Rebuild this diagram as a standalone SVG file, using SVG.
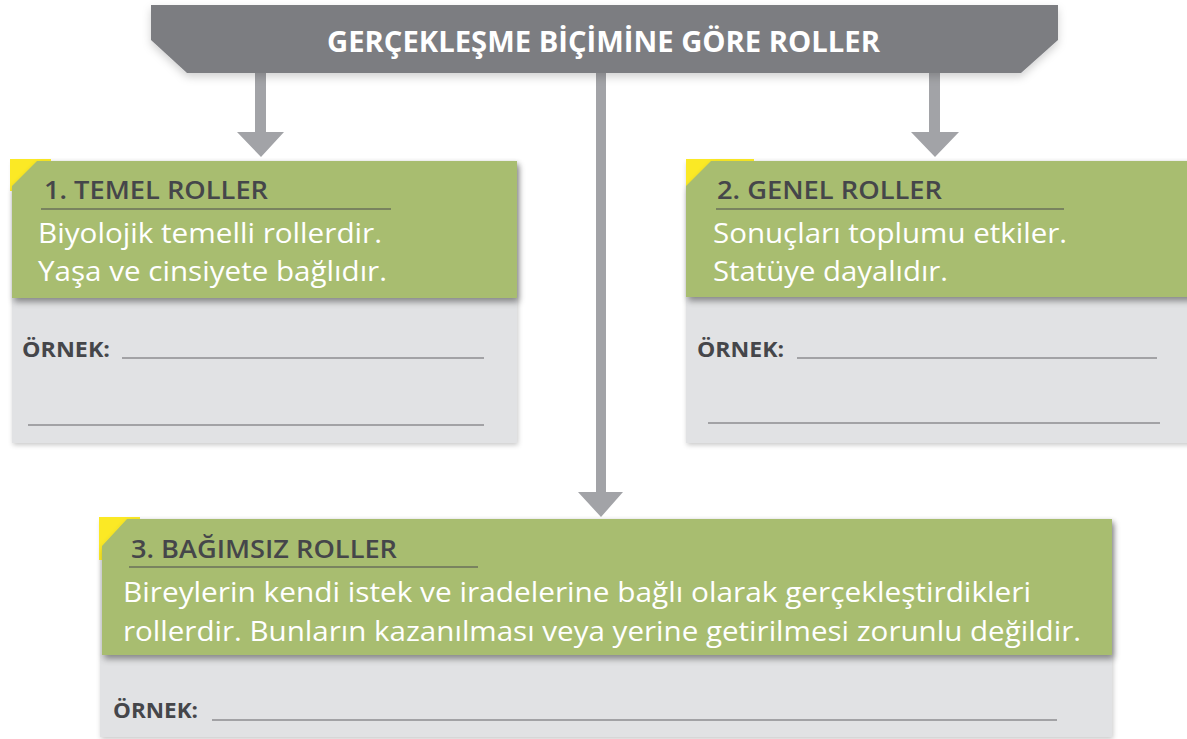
<svg xmlns="http://www.w3.org/2000/svg" width="1187" height="739" viewBox="0 0 1187 739">
  <style>
    .banner { fill: #7c7d81; }
    .arrow { fill: #a2a3a7; }
    .card { fill: #e1e2e4; }
    .head { fill: #a8bd6f; }
    .tag { fill: #fbe925; }
    .rule { stroke: #4a4b4f; stroke-width: 1.2; fill: none; }
    .blank { stroke: #8c8d91; stroke-width: 1.4; fill: none; }
    .title { font-family: "Open Sans", "Liberation Sans", sans-serif; font-weight: 700; font-size: 28px; fill: #ffffff; }
    .h { font-family: "Open Sans", "Liberation Sans", sans-serif; font-weight: 600; font-size: 26px; fill: #45464a; }
    .body { font-family: "Open Sans", "Liberation Sans", sans-serif; font-weight: 400; font-size: 27px; fill: #ffffff; }
    .ex { font-family: "Open Sans", "Liberation Sans", sans-serif; font-weight: 700; font-size: 21px; fill: #45464a; }
  </style>
  <defs>
    <filter id="shGreen" x="-5%" y="-10%" width="112%" height="130%">
      <feDropShadow dx="2" dy="4" stdDeviation="3" flood-color="#000" flood-opacity="0.4"/>
    </filter>
    <filter id="shCard" x="-5%" y="-5%" width="112%" height="115%">
      <feDropShadow dx="1" dy="2" stdDeviation="2.5" flood-color="#000" flood-opacity="0.22"/>
    </filter>
    <filter id="shBanner" x="-5%" y="-20%" width="110%" height="160%">
      <feDropShadow dx="0" dy="4" stdDeviation="4" flood-color="#000" flood-opacity="0.18"/>
    </filter>
  </defs>

  <rect width="1187" height="739" fill="#ffffff"/>

  <g id="connectors">
    <path class="arrow" d="M255,70 H266 V132 H284 L261,157 L237,132 H255 Z"/>
    <path class="arrow" d="M929,70 H940 V132 H959 L935,157 L911,132 H929 Z"/>
    <path class="arrow" d="M596,70 H606 V492 H623 L601,517 L578,492 H596 Z"/>
  </g>

  <g id="banner">
    <polygon class="banner" filter="url(#shBanner)" points="151,5 1058,5 1058,40 1021,73 187,73 151,40"/>
    <text class="title" x="327" y="52" textLength="553" lengthAdjust="spacingAndGlyphs">GERÇEKLEŞME BİÇİMİNE GÖRE ROLLER</text>
  </g>

  <g id="node-temel">
    <rect class="card" filter="url(#shCard)" x="12" y="161" width="505" height="282"/>
    <rect class="tag" x="10" y="159" width="41" height="32"/>
    <polygon class="head" filter="url(#shGreen)" points="37,161 517,161 517,298 12,298 12,186"/>
    <text class="h" x="44" y="199" textLength="224" lengthAdjust="spacingAndGlyphs">1. TEMEL ROLLER</text>
    <line class="rule" x1="41" y1="209" x2="391" y2="209"/>
    <text class="body" x="38" y="243" textLength="344" lengthAdjust="spacingAndGlyphs">Biyolojik temelli rollerdir.</text>
    <text class="body" x="38" y="281" textLength="349" lengthAdjust="spacingAndGlyphs">Yaşa ve cinsiyete bağlıdır.</text>
    <text class="ex" x="22" y="357" textLength="88" lengthAdjust="spacingAndGlyphs">ÖRNEK:</text>
    <line class="blank" x1="122" y1="358" x2="484" y2="358"/>
    <line class="blank" x1="28" y1="425" x2="484" y2="425"/>
  </g>

  <g id="node-genel">
    <rect class="card" filter="url(#shCard)" x="686" y="161" width="510" height="282"/>
    <rect class="tag" x="686" y="159" width="68" height="32"/>
    <polygon class="head" filter="url(#shGreen)" points="711,161 1195,161 1195,297 686,297 686,186"/>
    <text class="h" x="717" y="199" textLength="225" lengthAdjust="spacingAndGlyphs">2. GENEL ROLLER</text>
    <line class="rule" x1="716" y1="209" x2="1064" y2="209"/>
    <text class="body" x="713" y="243" textLength="354" lengthAdjust="spacingAndGlyphs">Sonuçları toplumu etkiler.</text>
    <text class="body" x="713" y="281" textLength="235" lengthAdjust="spacingAndGlyphs">Statüye dayalıdır.</text>
    <text class="ex" x="697" y="357" textLength="87" lengthAdjust="spacingAndGlyphs">ÖRNEK:</text>
    <line class="blank" x1="797" y1="358" x2="1157" y2="358"/>
    <line class="blank" x1="708" y1="423" x2="1160" y2="423"/>
  </g>

  <g id="node-bagimsiz">
    <rect class="card" filter="url(#shCard)" x="100" y="519" width="1012" height="218"/>
    <rect class="tag" x="99" y="517" width="41" height="43"/>
    <polygon class="head" filter="url(#shGreen)" points="127,519 1112,519 1112,655 102,655 102,546"/>
    <text class="h" x="131" y="558" textLength="266" lengthAdjust="spacingAndGlyphs">3. BAĞIMSIZ ROLLER</text>
    <line class="rule" x1="129" y1="567" x2="478" y2="567"/>
    <text class="body" x="123" y="602" textLength="908" lengthAdjust="spacingAndGlyphs">Bireylerin kendi istek ve iradelerine bağlı olarak gerçekleştirdikleri</text>
    <text class="body" x="123" y="641" textLength="958" lengthAdjust="spacingAndGlyphs">rollerdir. Bunların kazanılması veya yerine getirilmesi zorunlu değildir.</text>
    <text class="ex" x="113" y="718" textLength="85" lengthAdjust="spacingAndGlyphs">ÖRNEK:</text>
    <line class="blank" x1="212" y1="720" x2="1057" y2="720"/>
  </g>
</svg>
